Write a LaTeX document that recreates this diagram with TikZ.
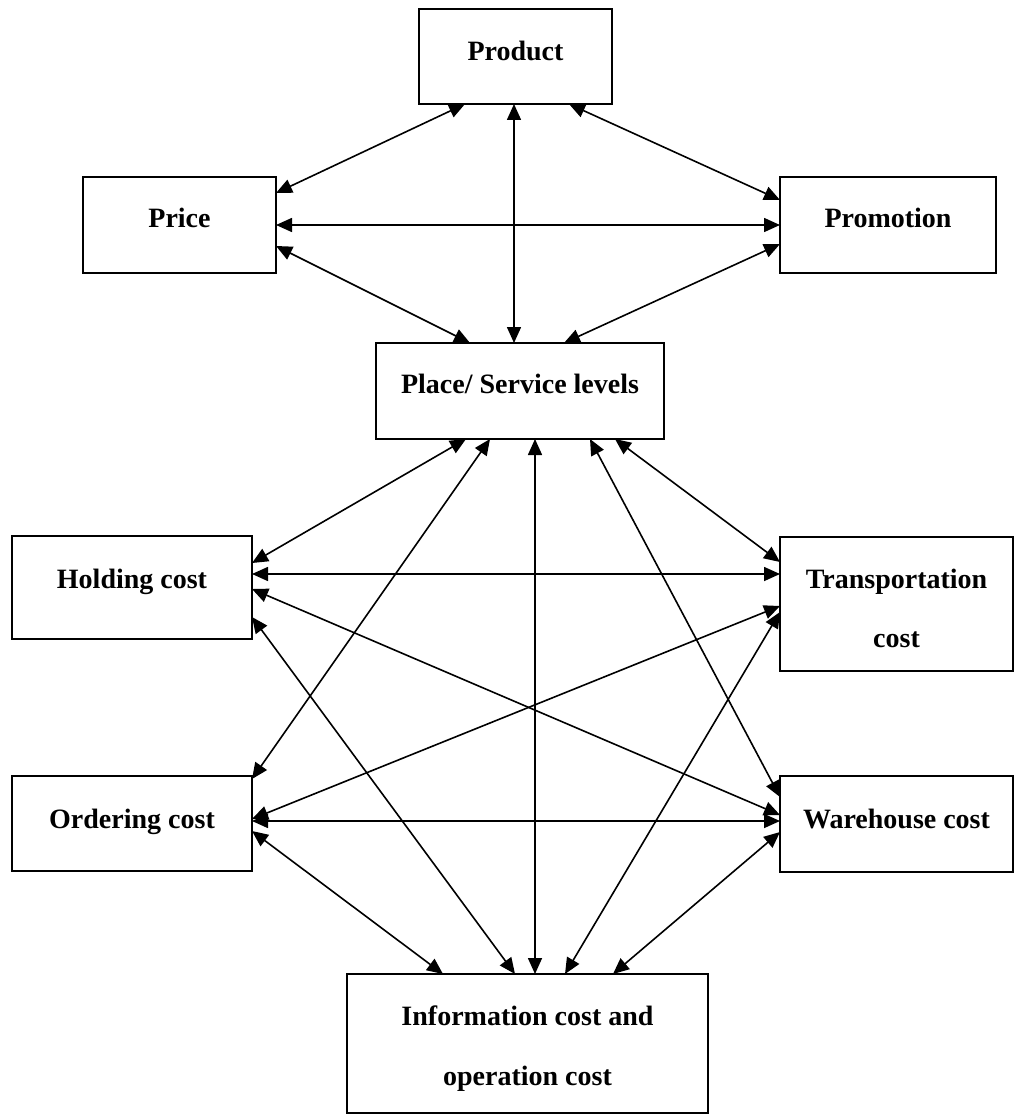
\documentclass[tikz,border=0pt]{standalone}
\usepackage{fontspec}
\setmainfont{Liberation Serif}
\usetikzlibrary{arrows.meta,calc}
\begin{document}
\begin{tikzpicture}[x=1pt,y=-1pt,
  box/.style={draw,line width=2pt,rectangle,inner sep=0pt,outer sep=0pt},
  lab/.style={anchor=base,inner sep=0pt,font=\bfseries\fontsize{28}{34}\selectfont},
  link/.style={line width=1.6pt,{Triangle[length=16pt,width=14pt]}-{Triangle[length=16pt,width=14pt]},shorten <=0pt,shorten >=0pt}]
\useasboundingbox (0,0) rectangle (1015,1115);
\fill[white] (0,0) rectangle (1015,1115);
% boxes
\node[box,minimum width=193pt,minimum height=95pt] (product) at (515.5,56.5) {};
\node[box,minimum width=193pt,minimum height=96pt] (price) at (179.5,225) {};
\node[box,minimum width=216pt,minimum height=96pt] (promotion) at (888,225) {};
\node[box,minimum width=288pt,minimum height=96pt] (place) at (520,391) {};
\node[box,minimum width=240pt,minimum height=103pt] (holding) at (132,587.5) {};
\node[box,minimum width=233pt,minimum height=134pt] (transport) at (896.5,604) {};
\node[box,minimum width=240pt,minimum height=95pt] (ordering) at (132,823.5) {};
\node[box,minimum width=233pt,minimum height=96pt] (warehouse) at (896.5,824) {};
\node[box,minimum width=361pt,minimum height=139pt] (info) at (527.5,1043.5) {};
% texts
\node[lab] (tproduct) at (515.5,61) {Product};
\node[lab] (tprice) at (179.5,228) {Price};
\node[lab] (tpromotion) at (888,228) {Promotion};
\node[lab] (tplace) at (520,393) {Place/ Service levels};
\node[lab] (tholding) at (132,588) {Holding cost};
\node[lab] (ttransportA) at (896.5,588) {Transportation};
\node[lab] (ttransportB) at (896.5,647) {cost};
\node[lab] (tordering) at (132,828) {Ordering cost};
\node[lab] (twarehouse) at (896.5,828) {Warehouse cost};
\node[lab] (tinfoA) at (527.5,1025) {Information cost and};
\node[lab] (tinfoB) at (527.5,1085) {operation cost};
% connectors
\draw[link] ($(product.south west)+(46,0)$) -- ($(price.north east)+(0,16)$);
\draw[link] ($(product.south west)+(150,0)$) -- ($(promotion.north west)+(0,23)$);
\draw[link] ($(product.south west)+(95,0)$) -- ($(place.north west)+(138,0)$);
\draw[link] (price.east) -- (promotion.west);
\draw[link] ($(price.south east)+(0,-27)$) -- ($(place.north west)+(94,0)$);
\draw[link] ($(promotion.south west)+(0,-29)$) -- ($(place.north west)+(188,0)$);
\draw[link] ($(place.south west)+(90,0)$) -- ($(holding.north east)+(0,27)$);
\draw[link] ($(place.south west)+(114,0)$) -- ($(ordering.north east)+(0,3)$);
\draw[link] ($(place.south west)+(159,0)$) -- ($(info.north west)+(188,0)$);
\draw[link] ($(place.south west)+(214,0)$) -- ($(warehouse.north west)+(0,21)$);
\draw[link] ($(place.south west)+(239,0)$) -- ($(transport.north west)+(0,25)$);
\draw[link] ($(holding.north east)+(0,38)$) -- ($(transport.north west)+(0,37)$);
\draw[link] ($(holding.north east)+(0,53)$) -- ($(warehouse.north west)+(0,39)$);
\draw[link] ($(holding.north east)+(0,81)$) -- ($(info.north west)+(168,0)$);
\draw[link] ($(ordering.north east)+(0,43)$) -- ($(transport.north west)+(0,69)$);
\draw[link] ($(ordering.north east)+(0,45)$) -- ($(warehouse.north west)+(0,45)$);
\draw[link] ($(ordering.north east)+(0,55)$) -- ($(info.north west)+(96,0)$);
\draw[link] ($(transport.north west)+(0,75)$) -- ($(info.north west)+(218,0)$);
\draw[link] ($(warehouse.north west)+(0,56)$) -- ($(info.north west)+(266,0)$);
\end{tikzpicture}
\end{document}
